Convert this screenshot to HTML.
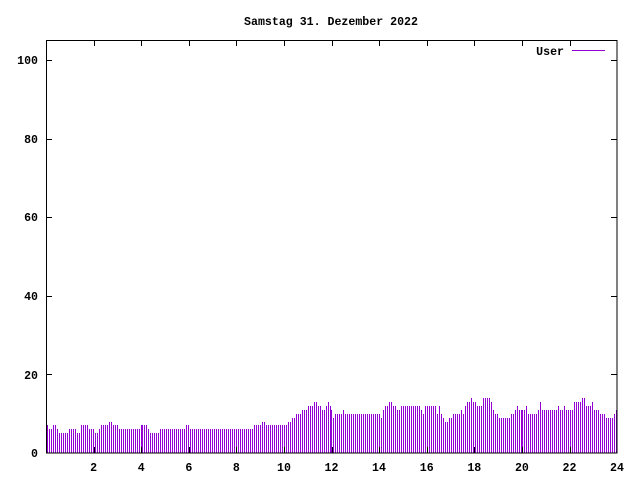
<!DOCTYPE html>
<html><head><meta charset="utf-8"><style>
html,body{margin:0;padding:0;background:#fff;}
svg{display:block;}
text{font-family:"Liberation Mono",monospace;font-size:11.6px;font-weight:bold;fill:#000;}
</style></head><body>
<svg id="s" width="640" height="480" xmlns="http://www.w3.org/2000/svg" shape-rendering="crispEdges">
<rect width="640" height="480" fill="#fff"/>
<text x="331" y="25" text-anchor="middle">Samstag 31. Dezember 2022</text>
<g text-anchor="end">
<text x="38" y="64">100</text>
<text x="38" y="143">80</text>
<text x="38" y="221">60</text>
<text x="38" y="300">40</text>
<text x="38" y="379">20</text>
<text x="38" y="457">0</text>
</g>
<g text-anchor="middle">
<text x="93.6" y="471">2</text>
<text x="141.2" y="471">4</text>
<text x="188.8" y="471">6</text>
<text x="236.4" y="471">8</text>
<text x="284" y="471">10</text>
<text x="331.5" y="471">12</text>
<text x="379" y="471">14</text>
<text x="426.7" y="471">16</text>
<text x="474.3" y="471">18</text>
<text x="521.9" y="471">20</text>
<text x="569.5" y="471">22</text>
<text x="617" y="471">24</text>
</g>
<text x="564" y="55" text-anchor="end">User</text>
<line x1="572" y1="50.5" x2="605" y2="50.5" stroke="#9400d3" stroke-width="1"/>
<path id="bars" d="" stroke="#9400d3" stroke-width="1" fill="none"/>
<path id="ticks" d="" stroke="#000" stroke-width="1" fill="none"/>
<rect x="46.5" y="40.5" width="570.5" height="412.5" fill="none" stroke="#000" stroke-width="1"/>
</svg>
<script>
var runs=[[47,47,7],[49,51,6],[53,55,7],[57,57,6],[59,67,5],[69,75,6],[77,79,5],[81,87,7],[89,93,6],[95,97,5],[99,99,6],[101,107,7],[109,111,8],[113,117,7],[119,139,6],[141,146,7],[148,158,5],[160,183,6],[185,187,7],[189,251,6],[253,259,7],[260,263,8],[264,285,7],[286,289,8],[290,293,9],[294,299,10],[300,305,11],[306,311,12],[312,315,13],[316,319,12],[320,323,11],[324,325,12],[326,327,13],[328,329,12],[330,331,11],[332,333,9],[334,341,10],[342,343,11],[344,379,10],[380,381,9],[382,383,11],[384,387,12],[388,391,13],[392,395,12],[396,399,11],[400,420,12],[421,422,11],[423,424,10],[425,435,12],[437,437,10],[439,439,12],[441,441,10],[443,443,9],[445,447,8],[449,451,9],[453,459,10],[461,461,11],[463,463,10],[465,465,12],[467,469,13],[471,471,14],[473,475,13],[477,481,12],[483,489,14],[491,491,13],[493,493,11],[495,497,10],[499,509,9],[511,513,10],[515,515,11],[517,517,12],[519,523,11],[525,525,12],[527,535,10],[537,537,11],[539,539,13],[541,555,11],[557,557,12],[559,561,11],[563,563,12],[565,571,11],[573,579,13],[581,583,14],[585,587,12],[589,589,12],[591,591,13],[593,597,11],[599,603,10],[605,611,9],[613,613,10],[615,615,11]];
function val(x){for(var i=0;i<runs.length;i++){if(x>=runs[i][0]&&x<=runs[i][1])return runs[i][2];}return 6;}
var xs=[];
for(var x=47;x<=141;x+=2)xs.push(x);
for(var x=142;x<=330;x+=2)xs.push(x);
for(var x=331;x<=521;x+=2)xs.push(x);
for(var x=522;x<=616;x+=2)xs.push(x);
var d="";
for(var i=0;i<xs.length;i++){var x=xs[i];var v=val(x%2?x:x-1);
var y=Math.round(453-v*3.93);d+="M"+(x+0.5)+" 453V"+y;}
document.getElementById("bars").setAttribute("d",d);
var t="";
for(var k=1;k<=5;k++){var yy=453-k*78.6;yy=Math.round(yy)+0.5;t+="M46 "+yy+"H52M617 "+yy+"H611";}
for(var h=2;h<24;h+=2){var xx=Math.round(46+h*23.8)+0.5;t+="M"+xx+" 453V447M"+xx+" 40V46";}
document.getElementById("ticks").setAttribute("d",t);
</script>
</body></html>
